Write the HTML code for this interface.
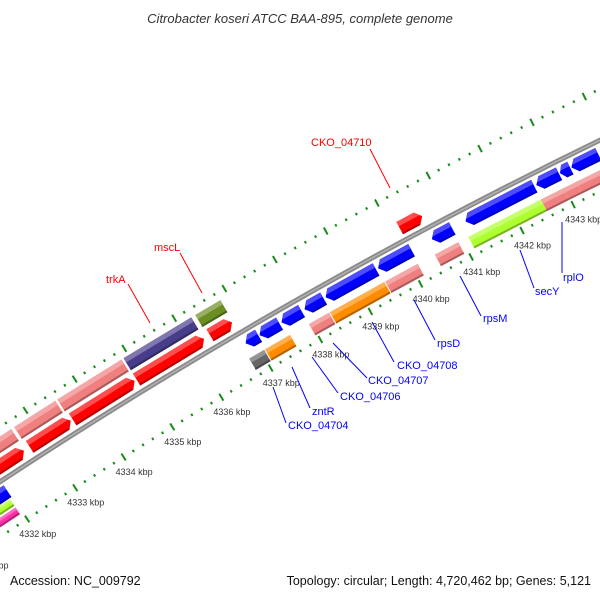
<!DOCTYPE html>
<html><head><meta charset="utf-8"><style>
html,body{margin:0;padding:0;background:#fff;}
svg{display:block;font-family:"Liberation Sans",sans-serif;}
</style></head><body>
<svg id="map" width="600" height="600" viewBox="0 0 600 600" xmlns="http://www.w3.org/2000/svg">
<rect width="600" height="600" fill="#fff"/>
<text x="300" y="23" text-anchor="middle" font-size="13" font-style="italic" fill="#333">Citrobacter koseri ATCC BAA-895, complete genome</text>
<g id="rings"></g>
<g id="genes"></g>
<g id="labels"></g>
<text x="10" y="585" font-size="12.5" fill="#111">Accession: NC_009792</text>
<text x="591" y="585" text-anchor="end" font-size="12.5" fill="#111">Topology: circular; Length: 4,720,462 bp; Genes: 5,121</text>
</svg>
<script>
const tickKbp = [4331,4332,4333,4334,4335,4336,4337,4338,4339,4340,4341,4342,4343,4344];
const tickLabels = ["4331 kbp","4332 kbp","4333 kbp","4334 kbp","4335 kbp","4336 kbp","4337 kbp","4338 kbp","4339 kbp","4340 kbp","4341 kbp","4342 kbp","4343 kbp","4344 kbp"];
const geneStart = [4331.4,4332.68,4333.56,4334.9,4336.34, 4331.3,4332.72,4333.6,4334.9,4336.38,4340.14,
 4331.3,4336.84,4337.12,4337.56,4338.02,4338.44,4339.48,4340.54,4341.2,4342.58,4343.04,4343.26,4343.82,
 4336.76,4337.08,4337.96,4338.38,4339.48,4340.46,4341.12,4342.54,4342.98,4343.22, 4331.3,4331.3];
const geneEnd = [4332.62,4333.52,4334.86,4336.26,4336.84, 4332.6,4333.56,4334.86,4336.26,4336.82,4340.58,
 4331.98,4337.1,4337.52,4337.96,4338.4,4339.44,4340.14,4340.94,4342.54,4343.02,4343.24,4343.78,4344.5,
 4337.06,4337.58,4338.36,4339.46,4340.12,4340.92,4342.54,4342.98,4343.22,4344.5, 4331.94,4331.94];
const geneStrand = [0,0,0,0,0, 1,1,1,1,1,1, -1,-1,-1,-1,-1,-1,-1,-1,-1,-1,-1,-1,-1, 0,0,0,0,0,0,0,0,0,0, 0,0];
const geneRow = ["fo","fo","fo","fo","fo","fi","fi","fi","fi","fi","fi",
 "ri","ri","ri","ri","ri","ri","ri","ri","ri","ri","ri","ri","ri",
 "ro","ro","ro","ro","ro","ro","ro","ro","ro","ro","la","lm"];
const geneColor = ["#f08080","#f08080","#f08080","#483d8b","#6b8e23","#ff0000","#ff0000","#ff0000","#ff0000","#ff0000","#ff0000",
 "#0000ff","#0000ff","#0000ff","#0000ff","#0000ff","#0000ff","#0000ff","#0000ff","#0000ff","#0000ff","#0000ff","#0000ff","#0000ff",
 "#666666","#ff8c00","#f08080","#ff8c00","#f08080","#f08080","#adff2f","#f08080","#f08080","#f08080","#adff2f","#ff2fa8"];
const labelText = ["CKO_04710","mscL","trkA","CKO_04704","zntR","CKO_04706","CKO_04707","CKO_04708","rpsD","rpsM","secY","rplO"];
const labelColor = ["#f00","#f00","#f00","#00f","#00f","#00f","#00f","#00f","#00f","#00f","#00f","#00f"];
const labelX = [311,154,106,288,312,340,368,397,437,483,535,563];
const labelY = [146,251,283,429,415,400,384,369,347,322,295,281];
const lineX1 = [390,202,150,273,292,312,333,372,414,460,520,562];
const lineY1 = [188,293,323,387,367,357,343,322,300,276,250,222];
const lineX2 = [370,180,128,286,310,338,367,394,435,481,534,562];
const lineY2 = [149,253,284,423,408,393,378,362,340,316,288,273];

const NS="http://www.w3.org/2000/svg";
const CX=2943, CY=4952, PHI0=-2.0986, DPHI=0.0108, REF=4337;
const R_IN=5306, R_OUT=5398, R_BB=5352;
const ROWS={fo:[5376,5390],fi:[5358,5372],ri:[5333,5347],ro:[5312,5325],la:[5324,5332],lm:[5314,5322]};
function ang(k){return PHI0+(k-REF)*DPHI;}
function pt(k,r){const a=ang(k);return [CX+r*Math.cos(a),CY+r*Math.sin(a)];}
function mk(tag,attrs,parent){const e=document.createElementNS(NS,tag);for(const k in attrs)e.setAttribute(k,attrs[k]);parent.appendChild(e);return e;}
function poly(pts){return pts.map(p=>p[0].toFixed(2)+","+p[1].toFixed(2)).join(" ");}

const rings=document.getElementById("rings");
// backbone arc
const a0=pt(4331,R_BB), a1=pt(4345,R_BB);
const bb=mk("path",{d:`M${a0[0]},${a0[1]} A${R_BB},${R_BB} 0 0 1 ${a1[0]},${a1[1]}`,fill:"none",stroke:"#8a8a8a","stroke-width":5},rings);


const bb2=mk("path",{d:`M${a0[0]},${a0[1]} A${R_BB},${R_BB} 0 0 1 ${a1[0]},${a1[1]}`,fill:"none",stroke:"#b0b0b0","stroke-width":1.5},rings);



// ticks
[R_IN,R_OUT].forEach((R,ri)=>{
  for(let t=0;t<=14*5;t++){
    const k=4331+t*0.2;
    const major=(t%5===0);
    const h=major?4:1.3;
    const p1=pt(k,R-h),p2=pt(k,R+h);
    const ln=mk("line",{x1:p1[0],y1:p1[1],x2:p2[0],y2:p2[1],stroke:"#1a8a1a","stroke-width":2},rings);
    
    
  }
});
tickKbp.forEach((k,i)=>{
  const p=pt(k,R_IN);
  const tx=mk("text",{x:(p[0]-8).toFixed(1),y:(p[1]+18).toFixed(1),"font-size":"9",fill:"#333"},rings);
  tx.textContent=tickLabels[i];
  
  
});

// genes
const genes=document.getElementById("genes");
function shade(c,f){const n=parseInt(c.slice(1),16);let r=n>>16,g=(n>>8)&255,b=n&255;
  const m=v=>Math.max(0,Math.min(255,Math.round(f>0?v+(255-v)*f:v*(1+f))));
  return "rgb("+m(r)+","+m(g)+","+m(b)+")";}
geneStart.forEach((s,i)=>{
  const e=geneEnd[i], st=geneStrand[i], row=ROWS[geneRow[i]], col=geneColor[i];
  const rI=row[0], rO=row[1], rM=(rI+rO)/2;
  const h=Math.min(0.1,(e-s)*0.4);
  let pts;
  if(st===1) pts=[pt(s,rI),pt(e-h,rI),pt(e,rM),pt(e-h,rO),pt(s,rO)];
  else if(st===-1) pts=[pt(e,rI),pt(s+h,rI),pt(s,rM),pt(s+h,rO),pt(e,rO)];
  else pts=[pt(s,rI),pt(e,rI),pt(e,rO),pt(s,rO)];
  const g=mk("polygon",{points:poly(pts),fill:col},genes);
  
  
  // highlight band on outer side
  const rH=rO-(rO-rI)*0.35;
  let hp;
  if(st===1) hp=[pt(s,rH),pt(e-h*0.35,rH),pt(e-h,rO),pt(s,rO)];
  else if(st===-1) hp=[pt(e,rH),pt(s+h*0.35,rH),pt(s+h,rO),pt(e,rO)];
  else hp=[pt(s,rH),pt(e,rH),pt(e,rO),pt(s,rO)];
  const hl=mk("polygon",{points:poly(hp),fill:shade(col,0.3)},genes);
  
  
  const dp=[pt(st===-1?e:s,rI),pt(st===1?e-h:(st===-1?s+h:e),rI),pt(st===1?e-h:(st===-1?s+h:e),rI+2),pt(st===-1?e:s,rI+2)];
  const dk=mk("polygon",{points:poly(dp),fill:shade(col,-0.3)},genes);
  
  
});

// labels
const labels=document.getElementById("labels");
labelText.forEach((t,i)=>{
  const ln=mk("line",{x1:lineX1[i],y1:lineY1[i],x2:lineX2[i],y2:lineY2[i],stroke:labelColor[i],"stroke-width":1},labels);
  
  
  const tx=mk("text",{x:labelX[i],y:labelY[i],"font-size":"11",fill:labelColor[i]},labels);
  tx.textContent=t;
  
  
});
</script>
</body></html>
